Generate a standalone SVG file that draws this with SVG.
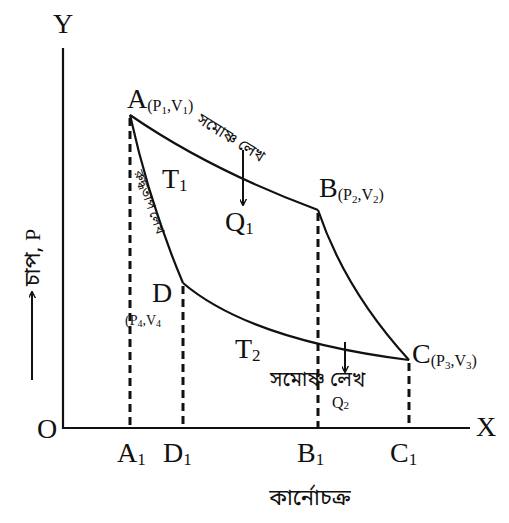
<svg xmlns="http://www.w3.org/2000/svg" width="509" height="523" viewBox="0 0 509 523">
<defs>
<style>
.ax{stroke:#111;stroke-width:2.2;fill:none}
.cv{stroke:#111;stroke-width:2.2;fill:none}
.dash{stroke:#111;stroke-width:3;fill:none;stroke-dasharray:8 5}
.lbl{font-family:"Liberation Serif","Times New Roman",serif;fill:#111}
.big{font-size:28px}
.sub{font-size:16px}
.ssub{font-size:11px}
.ix{font-size:17px}
.bn{font-family:"Noto Sans Bengali","Noto Serif Bengali","Lohit Bengali","Noto Sans",sans-serif;fill:#111}
</style>
<marker id="ah" viewBox="0 0 10 10" refX="9" refY="5" markerWidth="7" markerHeight="7" orient="auto" markerUnits="userSpaceOnUse">
<path d="M0,0 L10,5 L0,10" fill="none" stroke="#111" stroke-width="2"/>
</marker>
</defs>
<rect width="509" height="523" fill="#fff"/>
<g id="axes">
<path class="ax" d="M63,48 V428 H470"/>
<text class="lbl big" x="53" y="33">Y</text>
<text class="lbl big" x="476" y="436">X</text>
<text class="lbl big" x="37" y="438">O</text>
<text class="lbl big" x="117" y="462">A<tspan class="ix" dy="3">1</tspan></text>
<text class="lbl big" x="163" y="462">D<tspan class="ix" dy="3">1</tspan></text>
<text class="lbl big" x="297" y="462">B<tspan class="ix" dy="3">1</tspan></text>
<text class="lbl big" x="390" y="462">C<tspan class="ix" dy="3">1</tspan></text>
<g id="ylabel" transform="translate(32,290) rotate(-90)">
<line x1="-90" y1="0" x2="-2" y2="0" stroke="#111" stroke-width="2" marker-end="url(#ah)"/>
<text class="bn" x="4" y="8" font-size="22">চাপ, <tspan class="lbl">P</tspan></text>
</g>
<text class="bn" x="310" y="505" font-size="22" text-anchor="middle">কার্নোচক্র</text>
</g>
<g id="connectors">
<path class="cv" d="M130,115 Q210,170 318,210"/>
<path class="cv" d="M318,210 Q345,290 409,360"/>
<path class="cv" d="M183,283 Q250,340 409,360"/>
<path class="cv" d="M130,115 Q150,205 183,283"/>
<path class="dash" d="M130,118 V428"/>
<path class="dash" d="M183,286 V428"/>
<path class="dash" d="M318,213 V428"/>
<path class="dash" d="M409,363 V428"/>
<line x1="243" y1="150" x2="243" y2="205" stroke="#111" stroke-width="2" marker-end="url(#ah)"/>
<line x1="345" y1="342" x2="345" y2="372" stroke="#111" stroke-width="2" marker-end="url(#ah)"/>
</g>
<g id="node-A">
<text class="lbl big" x="127" y="108">A<tspan class="sub" dy="3">(P</tspan><tspan class="ssub" dy="3">1</tspan><tspan class="sub" dy="-3">,V</tspan><tspan class="ssub" dy="3">1</tspan><tspan class="sub" dy="-3">)</tspan></text>
</g>
<g id="node-B">
<text class="lbl big" x="319" y="197">B<tspan class="sub" dy="3">(P</tspan><tspan class="ssub" dy="3">2</tspan><tspan class="sub" dy="-3">,V</tspan><tspan class="ssub" dy="3">2</tspan><tspan class="sub" dy="-3">)</tspan></text>
</g>
<g id="node-C">
<text class="lbl big" x="412" y="363">C<tspan class="sub" dy="3">(P</tspan><tspan class="ssub" dy="3">3</tspan><tspan class="sub" dy="-3">,V</tspan><tspan class="ssub" dy="3">3</tspan><tspan class="sub" dy="-3">)</tspan></text>
</g>
<g id="node-D">
<text class="lbl big" x="152" y="302">D</text>
<text class="lbl" font-size="14" x="125" y="325">(P<tspan font-size="10" dy="2">4</tspan><tspan dy="-2">,V</tspan><tspan font-size="10" dy="2">4</tspan></text>
</g>
<g id="labels">
<text class="lbl big" x="162" y="188">T<tspan class="ix" dy="3">1</tspan></text>
<text class="lbl big" x="225" y="231">Q<tspan class="ix" dy="3">1</tspan></text>
<text class="lbl big" x="235" y="358">T<tspan class="ix" dy="3">2</tspan></text>
<text class="lbl" font-size="16" x="332" y="408">Q<tspan font-size="11" dy="1">2</tspan></text>
<text class="bn" font-size="16" transform="translate(196,122) rotate(32)">সমোষ্ণ লেখ</text>
<text class="bn" font-size="13" transform="translate(134,172) rotate(70)">রুদ্ধতাপ লেখ</text>
<text class="bn" font-size="20" x="270" y="386">সমোষ্ণ লেখ</text>
</g>
</svg>
